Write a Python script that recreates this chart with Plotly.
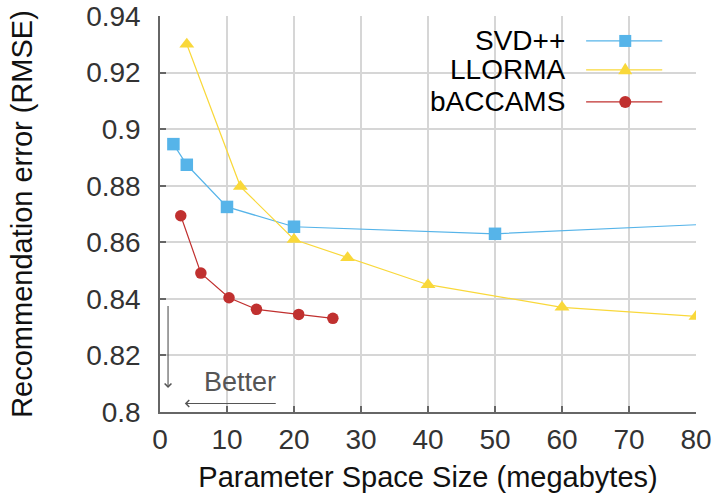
import plotly.graph_objects as go

svd_x = [2, 4, 10, 20, 50, 80]
svd_y = [0.8947, 0.8874, 0.8725, 0.8655, 0.8630, 0.8662]
svd_marker_x = [2, 4, 10, 20, 50]
svd_marker_y = [0.8947, 0.8874, 0.8725, 0.8655, 0.8630]

llorma_x = [4, 12, 20, 28, 40, 60, 80]
llorma_y = [0.9300, 0.8797, 0.8610, 0.8545, 0.8450, 0.8370, 0.8338]

baccams_x = [3.1, 6.1, 10.3, 14.4, 20.7, 25.8]
baccams_y = [0.8694, 0.8491, 0.8404, 0.8363, 0.8345, 0.8331]

series_names = ["SVD++", "LLORMA", "bACCAMS"]
colors = ["#56B4E9", "#F9D83A", "#C0302F"]

x_ticks = [0, 10, 20, 30, 40, 50, 60, 70, 80]
y_ticks = [0.8, 0.82, 0.84, 0.86, 0.88, 0.9, 0.92, 0.94]
y_ticktext = ["0.8", "0.82", "0.84", "0.86", "0.88", "0.9", "0.92", "0.94"]

FONT = "Liberation Sans, Arial, sans-serif"

fig = go.Figure()
fig.add_trace(go.Scatter(x=svd_x, y=svd_y, mode="lines", line=dict(color=colors[0], width=1.2),
                         showlegend=False, hoverinfo="skip"))
fig.add_trace(go.Scatter(x=svd_marker_x, y=svd_marker_y, mode="markers",
                         marker=dict(symbol="square", size=12.5, color=colors[0]), showlegend=False))
fig.add_trace(go.Scatter(x=llorma_x, y=llorma_y, mode="lines+markers", line=dict(color=colors[1], width=1.2),
                         marker=dict(symbol="triangle-up", size=13, color=colors[1]), showlegend=False))
fig.add_trace(go.Scatter(x=baccams_x, y=baccams_y, mode="lines+markers", line=dict(color=colors[2], width=1.2),
                         marker=dict(symbol="circle", size=11.5, color=colors[2]), showlegend=False))

# custom legend (text left, sample right)
rows_y = [0.937, 0.864, 0.783]
shapes = []
annotations = []
for name, col, ry, sym in zip(series_names, colors, rows_y, ["square", "triangle", "circle"]):
    annotations.append(dict(xref="paper", yref="paper", x=0.759, y=ry, text=name, showarrow=False,
                            xanchor="right", yanchor="middle", font=dict(family=FONT, size=28, color="#000")))
    shapes.append(dict(type="line", xref="paper", yref="paper", x0=0.795, x1=0.937, y0=ry, y1=ry,
                       line=dict(color=col, width=1.3)))
    if sym == "square":
        shapes.append(dict(type="rect", xref="paper", yref="paper", xsizemode="pixel", ysizemode="pixel",
                           xanchor=0.868, yanchor=ry, x0=-6, x1=6, y0=-6, y1=6,
                           fillcolor=col, line=dict(width=0)))
    elif sym == "circle":
        shapes.append(dict(type="circle", xref="paper", yref="paper", xsizemode="pixel", ysizemode="pixel",
                           xanchor=0.868, yanchor=ry, x0=-6, x1=6, y0=-6, y1=6,
                           fillcolor=col, line=dict(width=0)))
    else:
        shapes.append(dict(type="path", xref="paper", yref="paper", xsizemode="pixel", ysizemode="pixel",
                           xanchor=0.868, yanchor=ry, path="M -7,-4.5 L 7,-4.5 L 0,7 Z",
                           fillcolor=col, line=dict(width=0)))

# "Better" annotation with arrows
annotations.append(dict(x=12, y=0.8105, text="Better", showarrow=False, xref="x", yref="y",
                        font=dict(family=FONT, size=27, color="#555")))
annotations.append(dict(x=1.2, y=0.8085, ax=1.2, ay=0.8380, xref="x", yref="y", axref="x", ayref="y",
                        showarrow=True, arrowhead=4, arrowsize=1.2, arrowwidth=1.1, arrowcolor="#555", text=""))
annotations.append(dict(x=3.7, y=0.8030, ax=17.5, ay=0.8030, xref="x", yref="y", axref="x", ayref="y",
                        showarrow=True, arrowhead=4, arrowsize=1.2, arrowwidth=1.1, arrowcolor="#555", text=""))

fig.update_layout(
    width=712, height=499,
    margin=dict(l=160, r=16, t=16, b=87, autoexpand=False),
    plot_bgcolor="white", paper_bgcolor="white",
    font=dict(family=FONT, color="#222"),
    shapes=shapes, annotations=annotations,
)
fig.update_xaxes(range=[0, 80], tickvals=x_ticks, automargin=False,
                 showgrid=True, gridcolor="#d6d6d6", gridwidth=1.6,
                 showline=True, linecolor="#666", linewidth=1.5,
                 ticks="inside", ticklen=6, tickcolor="#666", tickwidth=1.5,
                 tickfont=dict(size=28, color="#333"), ticklabelstandoff=2,
                 title=dict(text="Parameter Space Size (megabytes)", font=dict(size=29, color="#111"), standoff=12),
                 zeroline=False)
fig.update_yaxes(range=[0.8, 0.94], tickvals=y_ticks, ticktext=y_ticktext, automargin=False,
                 showgrid=True, gridcolor="#d6d6d6", gridwidth=1.6,
                 showline=True, linecolor="#666", linewidth=1.5,
                 ticks="inside", ticklen=6, tickcolor="#666", tickwidth=1.5,
                 tickfont=dict(size=28, color="#333"), ticklabelstandoff=12,
                 title=dict(text="Recommendation error (RMSE)", font=dict(size=29, color="#111"), standoff=45),
                 zeroline=False)

fig.write_html("out.html", config={"displayModeBar": False},
               post_script="document.body.style.margin='0';document.body.style.overflow='hidden';")
